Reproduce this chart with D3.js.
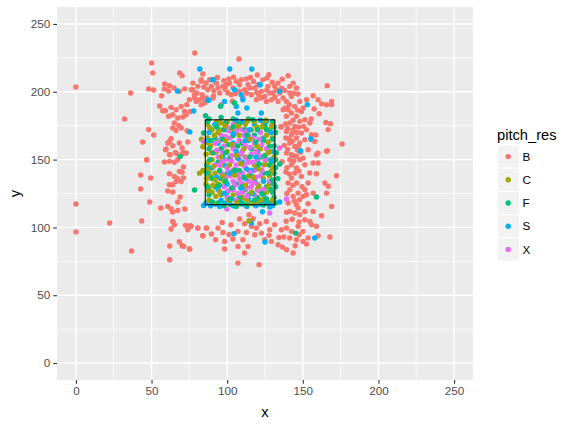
<!DOCTYPE html>
<html lang="en">
<head>
    <meta charset="UTF-8">
    <title>pitch_res scatter</title>
    <style>
        body {
            margin: 0;
            padding: 0;
            background: #ffffff;
            font-family: "Liberation Sans", Arial, sans-serif;
        }
    </style>
    <script src="https://d3js.org/d3.v7.min.js"></script>
</head>
<body>
    <div id="chart"></div>

    <script>
        // Data (x, y pairs per pitch result)
        const categories = ["B", "C", "F", "S", "X"];
        const xTicks = [0, 50, 100, 150, 200, 250];
        const yTicks = [0, 50, 100, 150, 200, 250];
        const zoneX = [85.5, 131.5];
        const zoneY = [116.7, 179.3];

        const ptsB = [
            [0,203.5],[36.2,199.1],[32.2,180],[50.1,221.2],[50.8,213.9],[48.1,202.1],[51.4,201.3],[78.6,228.6],
            [48.1,172.1],[51.4,168.1],[44.1,163],[46.8,150],[56.7,197.1],[55.4,189.5],[57.4,186],[59.2,186],
            [58.7,205.8],[61.8,204.5],[58.5,202.1],[61.3,200.6],[64.9,202.8],[68.4,200.3],[71.9,202.1],[68.6,213.9],
            [70.2,211.9],[62.9,188.5],[66.2,186.8],[69.6,189.2],[71.8,185.5],[61.3,181.9],[64,183.1],[67.3,180.7],
            [70.6,181.4],[65.1,177],[68,175],[64,173.3],[66.2,171.5],[69.6,173.3],[73.5,171.3],[62.9,165.4],
            [61.8,163.4],[60.7,162.2],[64,160.2],[68.4,162.2],[70.2,158.6],[71.1,155.3],[59.6,157.8],[62.3,153.6],
            [65.8,155.3],[74,163],[77.3,201.5],[79.9,199.1],[78.4,195.4],[81.7,194.2],[83.5,197.9],[86.1,195.4],
            [82.8,190.5],[83.9,213.1],[82.8,208.9],[73.3,190.5],[75,194.2],[86,206.5],[72.9,183.1],[75.5,185.5],
            // top band
            [76.2,201.5],[78.4,197.8],[80.6,204],[82.8,207.7],[83.9,195.4],[87.2,201.5],[88.4,208.9],[90.6,195.4],
            [92.8,206.4],[95,199.1],[97.2,204],[99.4,205.2],[100.5,199.1],[101.6,206.4],[103.8,202.8],[106,207.7],
            [108.2,205.2],[109.3,208.9],[111.5,201.5],[113.8,205.2],[116,197.8],[118.2,202.8],[120.4,205.2],[122.6,200.3],
            [124.8,196.6],[127,204],[129.2,194.2],[130.3,199.1],[131.4,204],[133.6,206.4],[134.7,199.1],[137,195.4],
            [139.2,192.9],[141.4,204],[142.5,196.6],[144.7,189.2],[145.8,202.8],[140.3,186.8],[137,186.8],[148,192.9],
            [150.2,188],[152.4,194.2],[79.5,192.9],[85,191.7],[96.1,190.5],[110.4,195.4],[119.3,194.2],[125.9,192.9],
            [133.6,192.9],[77.3,206.4],[89.5,204],[102.7,197.8],[114.9,202.8],[122.6,195.4],[128.1,199.1],[132.5,201.5],
            [141.4,199.1],[143.6,206.4],[93.5,210.5],[97.8,208.2],[104.2,210.8],[112.6,209.5],[117.4,207.6],[123.5,208.8],
            [129.8,207.1],[136.4,209.2],[91.2,200.8],[98.6,201.9],[105.4,198.6],[112.8,198.9],[119.6,199.4],[126.2,201.2],
            [135.9,202.6],[146.8,198.4],[107.8,224.2],[119.9,212.4],[126.3,210.2],[140.3,211.9],[166.1,204.5],[156.8,197.1],
            [160.1,194.2],[162.4,191.2],[165.7,190.5],[169,192.9],[169,190.5],[157.5,187.3],[160.8,183.8],[155.5,180],
            [165.2,177.4],[168.3,176.5],[166.7,172.1],[158.6,168.1],[155.7,164.7],[176,161.5],[166.3,156.6],[159.7,154.4],
            [135.8,174],[84.5,203.5],[94,203],[101,209.5],[108,200.5],[115.5,210.5],[121,197.5],[131.5,196],
            [138,201],[144,199],[91,197],[127.5,212.5],[103.5,193],
            // right column
            [139.2,181.9],[142.5,184.3],[145.8,181.9],[149.1,185.5],[141.4,177],[144.7,174.5],[148,178.2],[151.3,179.4],
            [139.2,170.8],[142.5,168.3],[145.8,165.9],[149.1,169.6],[152.4,172],[141.4,162.2],[144.7,159.7],[148,162.2],
            [151.3,164.7],[142.5,153.6],[145.8,152.4],[150.2,151.1],[139.2,154.8],[153.5,157.3],[154.6,177],[155.7,168.3],
            [157.9,163.4],[160.1,154.8],[138.6,176.2],[143.4,171.6],[147.2,173.9],[140.8,165.2],[146.5,156.8],[137.8,160.5],
            [138.5,188],[141,190.5],[143.5,179],[146.5,186.5],[140,173],[146,170],[150.5,174.5],[138.8,166],
            [143,163.5],[147,160],[140,157.5],[144,149],[148.5,155.5],[139.5,144],[147.5,141.5],[141,139.5],
            [143.5,131],[149.5,130],[139.5,125],[144.5,119.5],[147.5,104],[143,106],[139,104.5],[150,97],
            [137.5,93],[145,86.5],
            // left / lower left
            [0,117.3],[0,96.7],[22.3,103.2],[36.8,82.6],[43.5,104.7],[46.8,149.7],[42.8,138.6],[49.4,136.4],
            [42.8,128.3],[48.8,118.7],[56.1,114.3],[60.7,115.5],[62.9,113.6],[64,111.4],[67.3,112.5],[72,113.6],
            [67.3,118.7],[68.9,122.4],[60.7,126.9],[64,126.1],[61.8,131.4],[64,131.4],[61.8,139.6],[65.1,137.6],
            [67.3,135.9],[69.6,133.9],[71.1,136.4],[66.2,133.9],[68.4,141.3],[71.1,144.5],[70.2,140.6],[58.5,148.2],
            [61.8,148.7],[65.1,148],[67.3,150],[66.6,154.4],[70.6,154.4],[72.9,154.9],[61.8,153.8],[59.2,157.3],
            [64,104.4],[65.1,102],[62.9,98.8],[72.4,101.5],[75.5,101.3],[74,98.3],[80.6,99.6],[86.5,99.6],
            [83.9,93.9],[68.4,89.4],[70.2,86.5],[71.3,86],[75.3,84.1],[62,86.3],[62,76.2],
            // bottom band and lower right
            [114.4,109.4],[108.2,106.2],[111.5,102.7],[116,100.8],[119.3,99.5],[121.5,102.7],[125.9,104.4],[131.4,102],
            [128.1,98.3],[122.6,95.8],[118.2,94.6],[112.7,96.3],[107.1,97.1],[103.8,91.4],[110.4,90.9],[113.8,86],
            [107.1,86],[111.5,81.1],[96.7,103.7],[93.9,99.5],[97.2,96.3],[92.3,90.9],[98.3,89.7],[98.3,84.1],
            [86.1,99.5],[80.6,99.5],[83.9,93.9],[75.1,84.1],[76.2,100.8],[107.1,73.7],[121.1,72.5],[124.8,90.9],
            [129.2,89.7],[133.6,87.2],[136.5,85.5],[139.2,83.6],[143.6,81.1],[135.8,98.3],[139.2,99.5],[142.5,97.1],
            [141.4,92.2],[145.8,90.9],[150.2,89.7],[152.4,87.7],[146.9,100.8],[151.3,105.7],[154.6,104.4],[155.7,102],
            [159,100.8],[153.5,92.2],[160.1,93.9],[167.9,92.9],[148,109.4],[144.7,110.6],[141.4,111.8],[139.2,111.1],
            [145.8,116.7],[148,120.4],[150.2,122.9],[151.3,127.8],[153.5,117.5],[156.8,111.8],[162.4,108.6],[169,115.5],
            [165.7,125.3],[164.6,132.7],[166.8,130.3],[172.3,138.1],[153.5,132.7],[154.6,140.1],[159,139.6],[160.1,147.5],
            [156.8,147.5],[159,153.6],[165.7,156.1],[143.6,152.9],[142.5,146.2],[145.8,143.8],[142.5,136.4],[145.8,132.7],
            [141.4,127.8],[146.9,125.3],[152.4,124.1],[156.8,125.3],[141.4,149.9],[148,149.9],[151.3,146.2],[144.7,140.1],
            [149.1,137.6],[140.3,132.7],[143.6,122.9],[146.9,114.3],[140.3,118],[151.3,111.8],[135.4,174.2],[136.3,148.4],
            [102.5,101.8],[117.2,106.4],[127.6,94.2],[101.2,94.8],[89.6,95.1],[134.2,92.6],[147.6,94.6],[138.8,140.8]
        ];

        const ptsC = [
            [87,176],[90,172],[87,166],[89,160],[86,154],[90,150],[87,144],[89,138],[86,132],[90,126],
            [88,120],[93,178],[95,172],[94,164],[93,156],[92,140],[94,132],[96,124],[100,178],[106,178],
            [112,176],[118,178],[124,176],[128,172],[130,166],[128,156],[126,150],[130,144],[128,138],[126,126],
            [130,120],[122,120],[116,118],[110,122],[104,124],[98,134],[104,142],[112,152],[118,146],[122,158],
            [108,168],[100,156],[116,172],[114,138],[120,128],[84,142],[83,165],[96,146],[124,136],[110,132],
            [81.7,140],[83.9,159.5],[114.4,104.9],[88,128],[91,118],[126,168],
            [88.5,173.5],[91.5,168],[86.5,162.5],[89.5,155],[87.5,148],[91,145],[88,141],[86.5,136],[90.5,131],[87.5,127],
            [92.5,123],[95.5,177],[98.5,175],[103,172.5],[107.5,174.5],[113.5,178.5],[119.5,174],[125.5,179],[129.5,175],[127,163],
            [131,152],[125,146.5],[129,141],[127,130.5],[124.5,121],[119,118.5],[113,120.5],[106.5,118.5],[101,120],[95,126.5],
            [97,138],[101.5,146],[106,153],[111,158],[115,165],[119.5,160],[121,143],[117,137],[112,131],[105,138.5],
            [99,164],[94,170],[103,161],[109,147],[121,130.5],[127,155],[92,135],[96,152],[116,126],[123,174]
        ];

        const ptsF = [
            [88,180],[96,181],[104,180],[114,180],[122,179],[130,178],[132,170],[131,160],[132,150],[131,140],
            [132,130],[131,122],[126,118],[118,117],[110,118],[102,117],[94,118],[88,124],[92,130],[96,136],
            [100,140],[106,132],[112,128],[118,134],[124,140],[128,146],[122,152],[116,158],[110,162],[104,168],
            [98,172],[92,166],[88,158],[94,148],[100,126],[108,122],[114,124],[120,122],[126,130],[124,164],
            [118,168],[112,172],[126,172],[90,136],[102,152],[108,142],[120,156],[96,158],[130,126],[128,160],
            [85.7,182.4],[84.4,169.6],[78.4,127.6],[145.3,95.8],[159,122.4],[134.7,146.8],[68.9,152.4],[104.9,191.7],
            [95.6,189.3],[86.5,146],[133.5,136],
            [87,178],[92,176],[99,177],[108,176.5],[117,179.5],[125,175],[131,174],[130,165],[132.5,155],[129.5,148],
            [132,144],[130,135],[129,128],[132,118],[124,116.5],[113,116.5],[106,115.5],[98,116],[90,119],[87,130],
            [86.5,140],[88.5,150],[91,155],[95,142],[99,134],[103,129],[110,130],[116,138],[121,147],[125,153],
            [119,163],[113,168],[107,160],[101,161],[97,165],[93,174],[104,174],[115,152],[111,137],[123,125],
            [127,140],[120,172],[105,142],[99,155],[95,131],[126,121],[118,120],[102,121],[131,132],[89,164]
        ];

        const ptsS = [
            [86,118],[92,117],[98,118],[104,116],[110,117],[116,118],[122,117],[128,118],[96,120],[108,120],
            [120,120],[100,178],[110,178],[118,176],[126,178],[88,170],[94,162],[104,162],[114,164],[124,166],
            [130,156],[90,144],[98,146],[110,148],[120,144],[128,132],[100,132],[112,136],[124,124],[94,128],
            [106,156],[116,142],
            [81.9,216.8],[101.7,216.8],[116.3,216.8],[67.1,200.6],[77.9,185.8],[75.3,170.4],[87.2,193.7],[84.4,116.2],
            [104.5,95.4],[116,103.2],[125,89.2],[157.9,92.2],[148.6,156.6],[153,190.5],[155.3,165.4],[134.7,118.7],
            [128.1,115],[123.3,111.6],[90.6,208.9],[98.3,192.9],[104.9,201.5],[109.3,197.8],[110.4,194.2],[106,189.2],
            [107.1,184.3],[121.5,205.2],[122.6,184.3],[134.7,200.3],[90.5,208.9],[121.9,205.2],[87.9,193.7],[113,188],
            [89,116],[95,115.5],[101,118.5],[107,117],[113,115.5],[119,116],[125,118.5],[130,116],[103,121],[114,121],
            [126,120.5],[92,176],[106,179],[115,172],[122,179],[87,164],[97,152],[107,151],[119,152],[129,150],
            [102,140],[113,143],[124,134],[93,137],[109,129],[117,125],[98,125],[129,170],[104,169],[112,164]
        ];

        const ptsX = [
            [100,174],[104,176],[110,172],[96,168],[102,166],[108,164],[114,168],[118,162],[122,170],[98,160],
            [104,158],[110,156],[116,154],[120,150],[94,152],[100,150],[106,146],[112,144],[118,142],[124,146],
            [96,140],[102,138],[108,136],[114,134],[120,132],[98,130],[104,128],[110,126],[116,130],[122,138],
            [92,162],[106,170],[112,160],[126,158],[100,144],[108,150],[114,148],[110,140],[104,134],[118,124],
            [124,128],[100,122],[92,146],[128,134],[106,120],
            [99.8,113.5],[128.1,110.6],[139.2,120.9],[134.7,158.6],[84.4,163.4],
            [101,171],[107,173],[113,171],[117,166],[121,165],[95,164],[99,167],[105,161],[111,163],[115,159],
            [119,156],[123,161],[97,155],[103,153],[109,154],[113,151],[117,148],[121,153],[95,146],[101,141],
            [105,143],[111,146],[115,141],[119,137],[123,142],[99,137],[105,131],[109,133],[113,129],[117,133],
            [101,127],[107,125],[113,123],[121,127],[103,149],[107,139],[97,149],[125,150],[93,157],[111,168]
        ];

        const colors = ["#F8766D", "#A3A500", "#00BF7D", "#00B0F6", "#E76BF3"];

        const W = 571, H = 424;
        const panel = { left: 57, right: 473, top: 7, bottom: 380 };

        const x = d3.scaleLinear().domain([-12.5, 262.5]).range([panel.left, panel.right]);
        const y = d3.scaleLinear().domain([-12.5, 262.5]).range([panel.bottom, panel.top]);
        const color = d3.scaleOrdinal().domain(categories).range(colors);

        const svg = d3.select("#chart")
            .append("svg")
            .attr("width", W)
            .attr("height", H);

        // panel background
        svg.append("rect")
            .attr("x", panel.left)
            .attr("y", panel.top)
            .attr("width", panel.right - panel.left)
            .attr("height", panel.bottom - panel.top)
            .attr("fill", "#EBEBEB");

        // minor grid at midpoints between ticks
        const minor = d3.range(-25, 276, 50);
        const grid = svg.append("g");
        grid.selectAll(".mx").data(minor.filter(v => x(v) > panel.left && x(v) < panel.right))
            .join("line")
            .attr("x1", d => x(d)).attr("x2", d => x(d))
            .attr("y1", panel.top).attr("y2", panel.bottom)
            .attr("stroke", "#ffffff").attr("stroke-width", 0.7);
        grid.selectAll(".my").data(minor.filter(v => y(v) < panel.bottom && y(v) > panel.top))
            .join("line")
            .attr("y1", d => y(d)).attr("y2", d => y(d))
            .attr("x1", panel.left).attr("x2", panel.right)
            .attr("stroke", "#ffffff").attr("stroke-width", 0.7);

        // major grid
        grid.append("g").selectAll("line").data(xTicks)
            .join("line")
            .attr("x1", d => x(d)).attr("x2", d => x(d))
            .attr("y1", panel.top).attr("y2", panel.bottom)
            .attr("stroke", "#ffffff").attr("stroke-width", 1.4);
        grid.append("g").selectAll("line").data(yTicks)
            .join("line")
            .attr("y1", d => y(d)).attr("y2", d => y(d))
            .attr("x1", panel.left).attr("x2", panel.right)
            .attr("stroke", "#ffffff").attr("stroke-width", 1.4);

        // points: B first, then the rest interleaved so colours mix
        const allPts = ptsB.map(p => ({ cat: "B", x: p[0], y: p[1] }));
        const others = [["C", ptsC], ["F", ptsF], ["S", ptsS], ["X", ptsX]];
        const maxLen = d3.max(others, o => o[1].length);
        for (let i = 0; i < maxLen; i++) {
            others.forEach(([cat, arr]) => {
                if (i < arr.length) allPts.push({ cat: cat, x: arr[i][0], y: arr[i][1] });
            });
        }

        svg.append("g").selectAll("circle")
            .data(allPts)
            .join("circle")
            .attr("cx", d => x(d.x))
            .attr("cy", d => y(d.y))
            .attr("r", 2.7)
            .attr("fill", d => color(d.cat));

        // strike zone
        svg.append("rect")
            .attr("x", x(zoneX[0]))
            .attr("y", y(zoneY[1]))
            .attr("width", x(zoneX[1]) - x(zoneX[0]))
            .attr("height", y(zoneY[0]) - y(zoneY[1]))
            .attr("fill", "none")
            .attr("stroke", "#000000")
            .attr("stroke-width", 1);

        // axes
        const xAxis = d3.axisBottom(x).tickValues(xTicks).tickSize(3.7).tickPadding(3);
        const yAxis = d3.axisLeft(y).tickValues(yTicks).tickSize(3.7).tickPadding(3);

        const gx = svg.append("g")
            .attr("transform", `translate(0,${panel.bottom})`)
            .call(xAxis);
        const gy = svg.append("g")
            .attr("transform", `translate(${panel.left},0)`)
            .call(yAxis);

        [gx, gy].forEach(g => {
            g.select(".domain").remove();
            g.selectAll(".tick line").attr("stroke", "#333333").attr("stroke-width", 1.1);
            g.selectAll(".tick text")
                .attr("fill", "#4D4D4D")
                .style("font-family", "'Liberation Sans', Arial, sans-serif")
                .style("font-size", "11.7px");
        });

        // axis titles
        svg.append("text")
            .attr("x", (panel.left + panel.right) / 2)
            .attr("y", 417)
            .attr("text-anchor", "middle")
            .style("font-size", "14.7px")
            .attr("fill", "#000000")
            .text("x");

        svg.append("text")
            .attr("transform", `translate(20,${(panel.top + panel.bottom) / 2}) rotate(-90)`)
            .attr("text-anchor", "middle")
            .style("font-size", "14.7px")
            .attr("fill", "#000000")
            .text("y");

        // legend
        const legend = svg.append("g").attr("transform", "translate(497,0)");
        legend.append("text")
            .attr("x", 0)
            .attr("y", 140)
            .style("font-size", "14.7px")
            .attr("fill", "#000000")
            .text("pitch_res");

        const keyH = 23.2, keyTop = 145;
        const key = legend.selectAll(".key")
            .data(categories)
            .join("g")
            .attr("transform", (d, i) => `translate(0,${keyTop + i * keyH})`);

        key.append("rect")
            .attr("width", 22.5)
            .attr("height", keyH)
            .attr("fill", "#F2F2F2")
            .attr("stroke", "#ffffff")
            .attr("stroke-width", 1);

        key.append("circle")
            .attr("cx", 11.2)
            .attr("cy", keyH / 2)
            .attr("r", 2.7)
            .attr("fill", d => color(d));

        key.append("text")
            .attr("x", 25.5)
            .attr("y", keyH / 2 + 4.2)
            .style("font-size", "11.7px")
            .attr("fill", "#000000")
            .text(d => d);
    </script>
</body>
</html>
